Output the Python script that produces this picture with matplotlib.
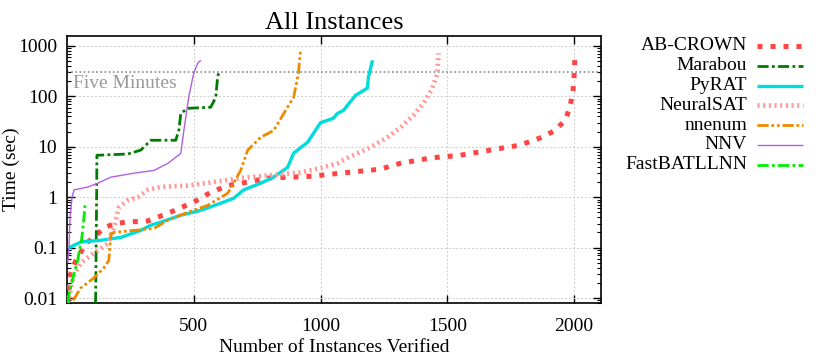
import matplotlib
matplotlib.use("Agg")
import matplotlib.pyplot as plt
from matplotlib.lines import Line2D
from matplotlib.ticker import LogLocator, NullFormatter, FixedLocator

plt.rcParams["font.family"] = ["Liberation Serif", "DejaVu Serif"]

# --- data (instances verified vs. time in seconds) ---
abcrown_x = [2, 10, 16, 35, 75, 122, 146, 190, 232, 320, 398, 500, 567, 634, 713, 791, 961,
             1079, 1236, 1315, 1433, 1551, 1669, 1787, 1866, 1925, 1965, 1984, 1996, 2000, 2004]
abcrown_y = [0.008, 0.02, 0.032, 0.056, 0.12, 0.19, 0.25, 0.3, 0.32, 0.34, 0.48, 0.8, 1.25, 1.7,
             2.0, 2.4, 2.6, 3.0, 3.6, 4.7, 6, 6.8, 8.6, 10.8, 15, 21, 34, 61, 133, 240, 700]

marabou_x = [112, 113, 114, 115, 117, 118, 180, 240, 291, 331, 429, 441, 449, 476, 567, 587, 594, 598]
marabou_y = [0.008, 0.01, 0.025, 0.1, 1, 6.8, 7, 7.2, 8.6, 13.5, 13.5, 21, 46, 58, 61, 96, 240, 290]

pyrat_x = [4, 55, 134, 213, 291, 331, 370, 449, 528, 606, 657, 697, 764, 815, 870, 894, 949,
           1000, 1051, 1067, 1091, 1138, 1185, 1189, 1205]
pyrat_y = [0.097, 0.13, 0.14, 0.16, 0.22, 0.28, 0.32, 0.44, 0.55, 0.76, 0.95, 1.4, 1.9, 2.5, 3.9,
           7.5, 12.3, 30, 37, 46, 53, 105, 146, 240, 520]

neuralsat_x = [8, 24, 55, 106, 161, 185, 205, 240, 280, 319, 370, 476, 579, 685, 791, 921, 1000,
               1067, 1106, 1146, 1197, 1264, 1315, 1366, 1406, 1441, 1461, 1465]
neuralsat_y = [0.01, 0.026, 0.05, 0.078, 0.12, 0.25, 0.63, 0.87, 1.0, 1.4, 1.6, 1.7, 2.0, 2.4,
               2.7, 3.1, 3.8, 4.7, 6, 7.4, 9.8, 15.5, 24, 42, 73, 146, 290, 720]

nnenum_x = [24, 55, 106, 146, 165, 173, 185, 264, 343, 398, 476, 555, 634, 657, 685, 713, 764,
            815, 870, 894, 913, 921]
nnenum_y = [0.009, 0.016, 0.025, 0.04, 0.056, 0.19, 0.2, 0.22, 0.24, 0.35, 0.5, 0.69, 1.2, 1.9,
            3.4, 8.6, 15.5, 21, 61, 96, 290, 830]

nnv_x = [3, 8, 12, 20, 28, 83, 122, 173, 264, 343, 398, 449, 461, 480, 500, 516, 528]
nnv_y = [0.05, 0.1, 0.4, 1.0, 1.4, 1.6, 1.9, 2.5, 3.0, 3.4, 4.7, 7.4, 21, 96, 290, 460, 520]

fastbat_x = [4, 8, 28, 40, 47, 58, 63, 68, 71]
fastbat_y = [0.008, 0.012, 0.031, 0.05, 0.077, 0.15, 0.25, 0.45, 0.69]

five_minutes = 300

# --- styles (gnuplot look) ---
series = [
    ("AB-CROWN", abcrown_x, abcrown_y, dict(color="#ff4444", lw=3.6, ls=(0, (1.0, 1.6)))),
    ("Marabou", marabou_x, marabou_y, dict(color="#007a00", lw=2.0, ls=(0, (4, 1.2, 1, 1.2)))),
    ("PyRAT", pyrat_x, pyrat_y, dict(color="#00dcdc", lw=2.4, ls="-")),
    ("NeuralSAT", neuralsat_x, neuralsat_y, dict(color="#ff9a9a", lw=3.4, ls=(0, (0.45, 0.75)))),
    ("nnenum", nnenum_x, nnenum_y, dict(color="#ee8a00", lw=2.0, ls=(0, (4, 1, 1, 1, 1, 1)))),
    ("NNV", nnv_x, nnv_y, dict(color="#b060e0", lw=1.0, ls="-")),
    ("FastBATLLNN", fastbat_x, fastbat_y, dict(color="#00ee00", lw=2.0, ls=(0, (4, 1.2, 1, 1.2)))),
]

fig = plt.figure(figsize=(8.3, 3.56), dpi=100)
ax = fig.add_axes([0.0807, 0.149, 0.643, 0.750])

for name, xs, ys, st in series:
    ax.plot(xs, ys, color=st["color"], lw=st["lw"], linestyle=st["ls"],
            solid_capstyle="butt", dash_capstyle="butt", zorder=3)

ax.axhline(five_minutes, color="#888888", lw=1.2, ls=(0, (1, 1.5)), zorder=2)
ax.text(22, 183, "Five Minutes", color="#999999", fontsize=14, va="center", ha="left")

ax.set_yscale("log")
ax.set_xlim(0, 2105)
ax.set_ylim(0.008, 1580)
ax.xaxis.set_major_locator(FixedLocator([500, 1000, 1500, 2000]))
ax.set_yticks([0.01, 0.1, 1, 10, 100, 1000])
ax.set_yticklabels(["0.01", "0.1", "1", "10", "100", "1000"])
ax.yaxis.set_minor_locator(LogLocator(base=10, subs=range(2, 10)))
ax.yaxis.set_minor_formatter(NullFormatter())

ax.tick_params(which="both", direction="in", top=True, right=True, labelsize=14)
ax.tick_params(which="major", length=6, width=1)
ax.tick_params(which="minor", length=3, width=0.8)
ax.tick_params(axis="x", pad=11)
ax.tick_params(axis="y", pad=7)
ax.grid(True, which="major", color="#cccccc", ls=(0, (2, 2)), lw=0.7)
for sp in ax.spines.values():
    sp.set_linewidth(1.2)

ax.set_title("All Instances", fontsize=19, pad=5)
ax.set_xlabel("Number of Instances Verified", fontsize=14)
ax.set_ylabel("Time (sec)", fontsize=14)
ax.xaxis.set_label_coords(0.5, -0.135)
ax.yaxis.set_label_coords(-0.088, 0.5)

# --- gnuplot-style key outside on the right: right-aligned text, then sample ---
for i, (name, xs, ys, st) in enumerate(series):
    yy = 1 - (46 + 19.8 * i) / 356
    fig.text(747 / 830, yy, name, ha="right", va="center", fontsize=14)
    fig.add_artist(Line2D([757 / 830, 803 / 830], [yy, yy], color=st["color"], lw=st["lw"],
                          linestyle=st["ls"], solid_capstyle="butt", dash_capstyle="butt",
                          transform=fig.transFigure))

fig.savefig("out.png", dpi=100)
